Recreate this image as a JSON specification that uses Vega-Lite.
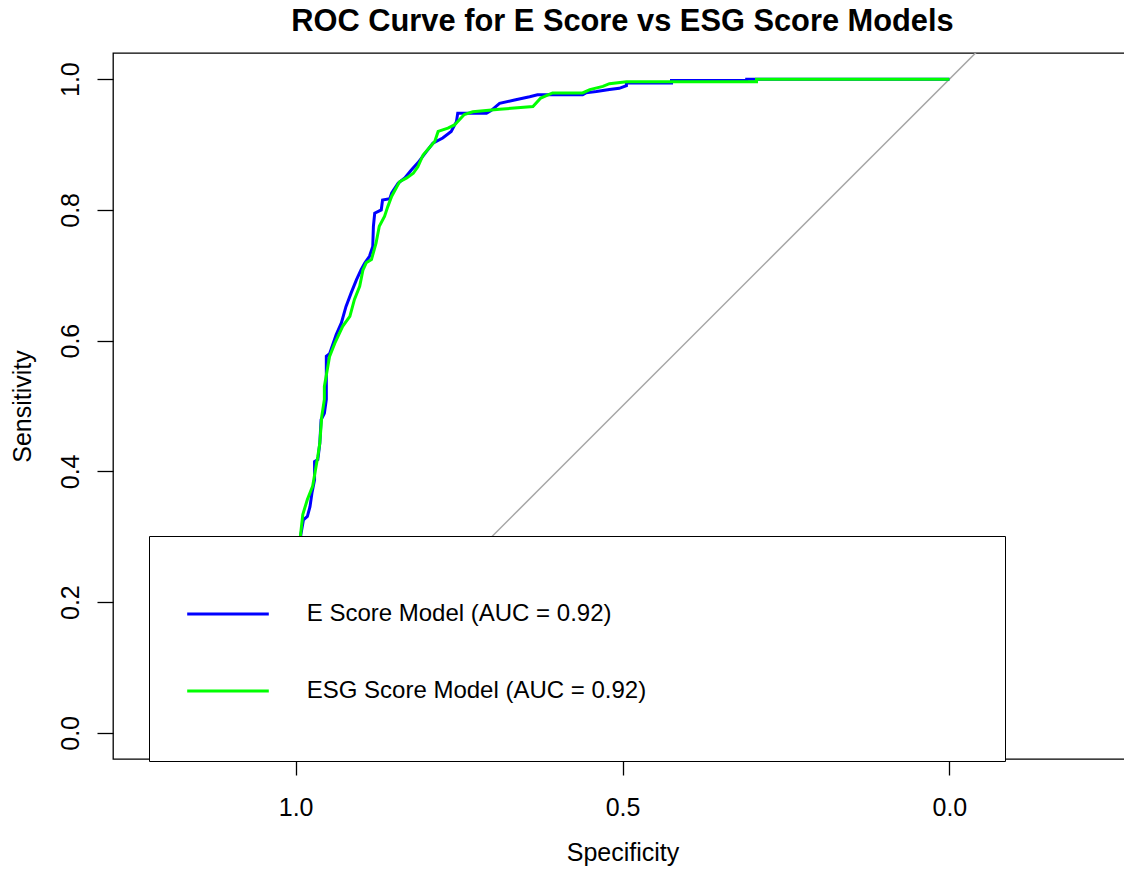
{
  "$schema": "https://vega.github.io/schema/vega-lite/v6.json",
  "width": 1019,
  "height": 706,
  "autosize": {"type": "none"},
  "padding": {"left": 113, "top": 53, "right": -8, "bottom": 113},
  "background": "white",
  "title": {"text": "ROC Curve for E Score vs ESG Score Models", "font": "Liberation Sans", "fontSize": 30.8, "fontWeight": "bold", "color": "black", "anchor": "middle", "frame": "group", "baseline": "alphabetic", "offset": -9},
  "config": {"view": {"stroke": "black", "strokeWidth": 1.3}, "font": "Liberation Sans"},
  "datasets": {
    "diag": [
      {"spec": -0.1, "sens": 1.1},
      {"spec": 1.1, "sens": -0.1}
    ],
    "roc": [
      {"model": "E Score Model (AUC = 0.92)", "i": 1, "spec": 1.0, "sens": 0.0},
      {"model": "E Score Model (AUC = 0.92)", "i": 2, "spec": 0.995, "sens": 0.2},
      {"model": "E Score Model (AUC = 0.92)", "i": 3, "spec": 0.992, "sens": 0.303},
      {"model": "E Score Model (AUC = 0.92)", "i": 4, "spec": 0.988, "sens": 0.326},
      {"model": "E Score Model (AUC = 0.92)", "i": 5, "spec": 0.982, "sens": 0.331},
      {"model": "E Score Model (AUC = 0.92)", "i": 6, "spec": 0.978, "sens": 0.346},
      {"model": "E Score Model (AUC = 0.92)", "i": 7, "spec": 0.975, "sens": 0.367},
      {"model": "E Score Model (AUC = 0.92)", "i": 8, "spec": 0.971, "sens": 0.387},
      {"model": "E Score Model (AUC = 0.92)", "i": 9, "spec": 0.971, "sens": 0.415},
      {"model": "E Score Model (AUC = 0.92)", "i": 10, "spec": 0.966, "sens": 0.418},
      {"model": "E Score Model (AUC = 0.92)", "i": 11, "spec": 0.963, "sens": 0.443},
      {"model": "E Score Model (AUC = 0.92)", "i": 12, "spec": 0.961, "sens": 0.479},
      {"model": "E Score Model (AUC = 0.92)", "i": 13, "spec": 0.956, "sens": 0.489},
      {"model": "E Score Model (AUC = 0.92)", "i": 14, "spec": 0.953, "sens": 0.51},
      {"model": "E Score Model (AUC = 0.92)", "i": 15, "spec": 0.953, "sens": 0.576},
      {"model": "E Score Model (AUC = 0.92)", "i": 16, "spec": 0.948, "sens": 0.58},
      {"model": "E Score Model (AUC = 0.92)", "i": 17, "spec": 0.938, "sens": 0.609},
      {"model": "E Score Model (AUC = 0.92)", "i": 18, "spec": 0.93, "sens": 0.627},
      {"model": "E Score Model (AUC = 0.92)", "i": 19, "spec": 0.923, "sens": 0.652},
      {"model": "E Score Model (AUC = 0.92)", "i": 20, "spec": 0.915, "sens": 0.673},
      {"model": "E Score Model (AUC = 0.92)", "i": 21, "spec": 0.907, "sens": 0.693},
      {"model": "E Score Model (AUC = 0.92)", "i": 22, "spec": 0.9, "sens": 0.708},
      {"model": "E Score Model (AUC = 0.92)", "i": 23, "spec": 0.894, "sens": 0.719},
      {"model": "E Score Model (AUC = 0.92)", "i": 24, "spec": 0.887, "sens": 0.729},
      {"model": "E Score Model (AUC = 0.92)", "i": 25, "spec": 0.882, "sens": 0.744},
      {"model": "E Score Model (AUC = 0.92)", "i": 26, "spec": 0.881, "sens": 0.775},
      {"model": "E Score Model (AUC = 0.92)", "i": 27, "spec": 0.879, "sens": 0.795},
      {"model": "E Score Model (AUC = 0.92)", "i": 28, "spec": 0.869, "sens": 0.8},
      {"model": "E Score Model (AUC = 0.92)", "i": 29, "spec": 0.867, "sens": 0.815},
      {"model": "E Score Model (AUC = 0.92)", "i": 30, "spec": 0.856, "sens": 0.817},
      {"model": "E Score Model (AUC = 0.92)", "i": 31, "spec": 0.853, "sens": 0.826},
      {"model": "E Score Model (AUC = 0.92)", "i": 32, "spec": 0.843, "sens": 0.841},
      {"model": "E Score Model (AUC = 0.92)", "i": 33, "spec": 0.833, "sens": 0.849},
      {"model": "E Score Model (AUC = 0.92)", "i": 34, "spec": 0.823, "sens": 0.861},
      {"model": "E Score Model (AUC = 0.92)", "i": 35, "spec": 0.813, "sens": 0.872},
      {"model": "E Score Model (AUC = 0.92)", "i": 36, "spec": 0.8, "sens": 0.889},
      {"model": "E Score Model (AUC = 0.92)", "i": 37, "spec": 0.79, "sens": 0.902},
      {"model": "E Score Model (AUC = 0.92)", "i": 38, "spec": 0.775, "sens": 0.91},
      {"model": "E Score Model (AUC = 0.92)", "i": 39, "spec": 0.762, "sens": 0.92},
      {"model": "E Score Model (AUC = 0.92)", "i": 40, "spec": 0.754, "sens": 0.935},
      {"model": "E Score Model (AUC = 0.92)", "i": 41, "spec": 0.752, "sens": 0.948},
      {"model": "E Score Model (AUC = 0.92)", "i": 42, "spec": 0.708, "sens": 0.948},
      {"model": "E Score Model (AUC = 0.92)", "i": 43, "spec": 0.701, "sens": 0.952},
      {"model": "E Score Model (AUC = 0.92)", "i": 44, "spec": 0.688, "sens": 0.963},
      {"model": "E Score Model (AUC = 0.92)", "i": 45, "spec": 0.665, "sens": 0.968},
      {"model": "E Score Model (AUC = 0.92)", "i": 46, "spec": 0.642, "sens": 0.973},
      {"model": "E Score Model (AUC = 0.92)", "i": 47, "spec": 0.63, "sens": 0.976},
      {"model": "E Score Model (AUC = 0.92)", "i": 48, "spec": 0.561, "sens": 0.976},
      {"model": "E Score Model (AUC = 0.92)", "i": 49, "spec": 0.556, "sens": 0.979},
      {"model": "E Score Model (AUC = 0.92)", "i": 50, "spec": 0.54, "sens": 0.981},
      {"model": "E Score Model (AUC = 0.92)", "i": 51, "spec": 0.52, "sens": 0.984},
      {"model": "E Score Model (AUC = 0.92)", "i": 52, "spec": 0.505, "sens": 0.986},
      {"model": "E Score Model (AUC = 0.92)", "i": 53, "spec": 0.494, "sens": 0.99},
      {"model": "E Score Model (AUC = 0.92)", "i": 54, "spec": 0.494, "sens": 0.994},
      {"model": "E Score Model (AUC = 0.92)", "i": 55, "spec": 0.425, "sens": 0.994},
      {"model": "E Score Model (AUC = 0.92)", "i": 56, "spec": 0.425, "sens": 0.998},
      {"model": "E Score Model (AUC = 0.92)", "i": 57, "spec": 0.31, "sens": 0.998},
      {"model": "E Score Model (AUC = 0.92)", "i": 58, "spec": 0.31, "sens": 1.0},
      {"model": "E Score Model (AUC = 0.92)", "i": 59, "spec": 0.0, "sens": 1.0},
      {"model": "ESG Score Model (AUC = 0.92)", "i": 1, "spec": 1.0, "sens": 0.0},
      {"model": "ESG Score Model (AUC = 0.92)", "i": 2, "spec": 0.996, "sens": 0.2},
      {"model": "ESG Score Model (AUC = 0.92)", "i": 3, "spec": 0.993, "sens": 0.298},
      {"model": "ESG Score Model (AUC = 0.92)", "i": 4, "spec": 0.989, "sens": 0.334},
      {"model": "ESG Score Model (AUC = 0.92)", "i": 5, "spec": 0.982, "sens": 0.357},
      {"model": "ESG Score Model (AUC = 0.92)", "i": 6, "spec": 0.974, "sens": 0.377},
      {"model": "ESG Score Model (AUC = 0.92)", "i": 7, "spec": 0.966, "sens": 0.423},
      {"model": "ESG Score Model (AUC = 0.92)", "i": 8, "spec": 0.963, "sens": 0.443},
      {"model": "ESG Score Model (AUC = 0.92)", "i": 9, "spec": 0.96, "sens": 0.484},
      {"model": "ESG Score Model (AUC = 0.92)", "i": 10, "spec": 0.956, "sens": 0.51},
      {"model": "ESG Score Model (AUC = 0.92)", "i": 11, "spec": 0.956, "sens": 0.53},
      {"model": "ESG Score Model (AUC = 0.92)", "i": 12, "spec": 0.948, "sens": 0.576},
      {"model": "ESG Score Model (AUC = 0.92)", "i": 13, "spec": 0.94, "sens": 0.596},
      {"model": "ESG Score Model (AUC = 0.92)", "i": 14, "spec": 0.928, "sens": 0.622},
      {"model": "ESG Score Model (AUC = 0.92)", "i": 15, "spec": 0.917, "sens": 0.637},
      {"model": "ESG Score Model (AUC = 0.92)", "i": 16, "spec": 0.91, "sens": 0.663},
      {"model": "ESG Score Model (AUC = 0.92)", "i": 17, "spec": 0.902, "sens": 0.683},
      {"model": "ESG Score Model (AUC = 0.92)", "i": 18, "spec": 0.897, "sens": 0.708},
      {"model": "ESG Score Model (AUC = 0.92)", "i": 19, "spec": 0.892, "sens": 0.719},
      {"model": "ESG Score Model (AUC = 0.92)", "i": 20, "spec": 0.884, "sens": 0.724},
      {"model": "ESG Score Model (AUC = 0.92)", "i": 21, "spec": 0.877, "sens": 0.749},
      {"model": "ESG Score Model (AUC = 0.92)", "i": 22, "spec": 0.872, "sens": 0.775},
      {"model": "ESG Score Model (AUC = 0.92)", "i": 23, "spec": 0.864, "sens": 0.79},
      {"model": "ESG Score Model (AUC = 0.92)", "i": 24, "spec": 0.859, "sens": 0.805},
      {"model": "ESG Score Model (AUC = 0.92)", "i": 25, "spec": 0.853, "sens": 0.821},
      {"model": "ESG Score Model (AUC = 0.92)", "i": 26, "spec": 0.841, "sens": 0.843},
      {"model": "ESG Score Model (AUC = 0.92)", "i": 27, "spec": 0.83, "sens": 0.849},
      {"model": "ESG Score Model (AUC = 0.92)", "i": 28, "spec": 0.82, "sens": 0.856},
      {"model": "ESG Score Model (AUC = 0.92)", "i": 29, "spec": 0.813, "sens": 0.866},
      {"model": "ESG Score Model (AUC = 0.92)", "i": 30, "spec": 0.805, "sens": 0.884},
      {"model": "ESG Score Model (AUC = 0.92)", "i": 31, "spec": 0.787, "sens": 0.905},
      {"model": "ESG Score Model (AUC = 0.92)", "i": 32, "spec": 0.782, "sens": 0.92},
      {"model": "ESG Score Model (AUC = 0.92)", "i": 33, "spec": 0.767, "sens": 0.925},
      {"model": "ESG Score Model (AUC = 0.92)", "i": 34, "spec": 0.757, "sens": 0.93},
      {"model": "ESG Score Model (AUC = 0.92)", "i": 35, "spec": 0.742, "sens": 0.946},
      {"model": "ESG Score Model (AUC = 0.92)", "i": 36, "spec": 0.729, "sens": 0.95},
      {"model": "ESG Score Model (AUC = 0.92)", "i": 37, "spec": 0.688, "sens": 0.954},
      {"model": "ESG Score Model (AUC = 0.92)", "i": 38, "spec": 0.637, "sens": 0.958},
      {"model": "ESG Score Model (AUC = 0.92)", "i": 39, "spec": 0.625, "sens": 0.971},
      {"model": "ESG Score Model (AUC = 0.92)", "i": 40, "spec": 0.607, "sens": 0.979},
      {"model": "ESG Score Model (AUC = 0.92)", "i": 41, "spec": 0.561, "sens": 0.979},
      {"model": "ESG Score Model (AUC = 0.92)", "i": 42, "spec": 0.55, "sens": 0.984},
      {"model": "ESG Score Model (AUC = 0.92)", "i": 43, "spec": 0.53, "sens": 0.989},
      {"model": "ESG Score Model (AUC = 0.92)", "i": 44, "spec": 0.52, "sens": 0.993},
      {"model": "ESG Score Model (AUC = 0.92)", "i": 45, "spec": 0.494, "sens": 0.996},
      {"model": "ESG Score Model (AUC = 0.92)", "i": 46, "spec": 0.295, "sens": 0.996},
      {"model": "ESG Score Model (AUC = 0.92)", "i": 47, "spec": 0.295, "sens": 1.0},
      {"model": "ESG Score Model (AUC = 0.92)", "i": 48, "spec": 0.0, "sens": 1.0}
    ]
  },
  "encoding": {
    "x": {
      "field": "spec", "type": "quantitative",
      "scale": {"domain": [-0.2793, 1.2793], "reverse": true, "nice": false, "zero": false},
      "axis": {"title": "Specificity", "values": [0, 0.5, 1], "format": ".1f", "grid": false, "domain": false, "tickSize": 16, "tickColor": "black", "tickWidth": 1.3, "labelFont": "Liberation Sans", "labelFontSize": 25, "labelColor": "black", "labelPadding": 20, "labelFlush": false, "labelOverlap": false, "titleFont": "Liberation Sans", "titleFontSize": 25, "titleFontWeight": "normal", "titleColor": "black", "titleX": 509.5, "titleY": 101, "titleAlign": "center", "titleBaseline": "alphabetic"}
    },
    "y": {
      "field": "sens", "type": "quantitative",
      "scale": {"domain": [-0.04, 1.04], "nice": false, "zero": false},
      "axis": {"title": "Sensitivity", "values": [0, 0.2, 0.4, 0.6, 0.8, 1], "format": ".1f", "grid": false, "domain": false, "tickSize": 16, "tickColor": "black", "tickWidth": 1.3, "labelFont": "Liberation Sans", "labelFontSize": 25, "labelColor": "black", "labelAngle": -90, "labelAlign": "center", "labelBaseline": "alphabetic", "labelPadding": 19, "labelFlush": false, "labelOverlap": false, "titleFont": "Liberation Sans", "titleFontSize": 25, "titleFontWeight": "normal", "titleColor": "black", "titleAngle": -90, "titleX": -83, "titleY": 353, "titleAlign": "center", "titleBaseline": "alphabetic"}
    }
  },
  "layer": [
    {
      "data": {"name": "diag"},
      "mark": {"type": "line", "color": "#a6a6a6", "strokeWidth": 1.5, "clip": true}
    },
    {
      "data": {"name": "roc"},
      "mark": {"type": "line", "strokeWidth": 3, "clip": true},
      "encoding": {
        "order": {"field": "i", "type": "quantitative"},
        "color": {
          "field": "model", "type": "nominal",
          "scale": {"domain": ["E Score Model (AUC = 0.92)", "ESG Score Model (AUC = 0.92)"], "range": ["#0000ff", "#00ff00"]},
          "legend": {"orient": "none", "legendX": 36, "legendY": 483, "title": "\u00a0", "titleOrient": "right", "titleFontSize": 1, "titlePadding": 323, "symbolType": "M-1,0L1,0M0,0.675", "symbolSize": 6659, "symbolStrokeWidth": 3, "symbolOffset": 1, "labelFont": "Liberation Sans", "labelFontSize": 24, "labelColor": "black", "labelOffset": 36.2, "labelLimit": 0, "padding": 35.5, "rowPadding": 0, "strokeColor": "black", "fillColor": "white"}
        }
      }
    }
  ]
}
